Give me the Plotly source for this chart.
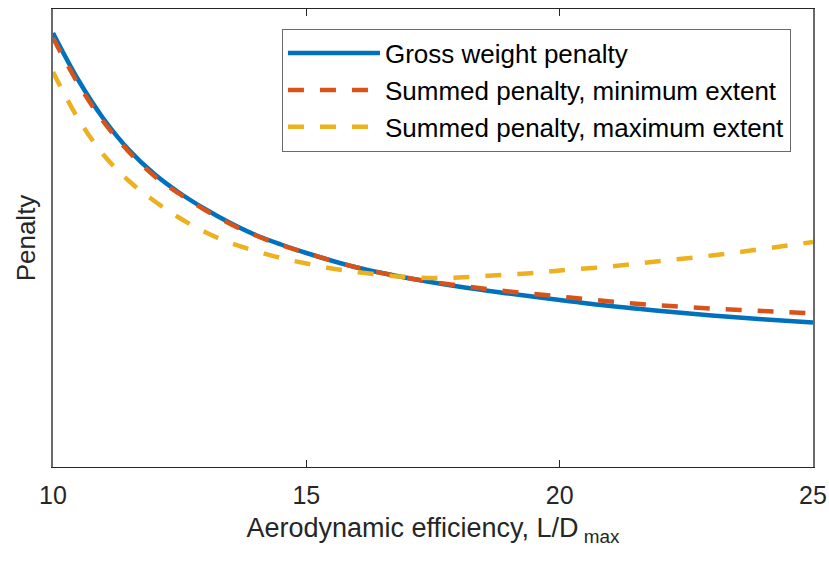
import plotly.graph_objects as go

# Aerodynamic efficiency (L/D max) sample points
ld_gross = [10, 10.5, 11, 11.5, 12, 12.5, 13, 13.5, 14, 14.5, 15,
            16, 17, 18, 19, 20, 21, 22, 23, 24, 25]
penalty_gross = [434, 387, 348, 317, 293, 274, 258, 244, 232, 222.5, 214,
                 199.5, 189, 180.5, 173.5, 167, 161, 156, 151.5, 147.8, 144.5]

ld_min = ld_gross
penalty_min = [429, 383, 345, 315, 291, 273, 257, 243, 231.5, 222, 214,
               199.5, 189, 181.5, 175.5, 170.5, 165.5, 161.5, 158.5, 156, 153.5]

ld_max = [10, 10.5, 11, 11.5, 12, 12.5, 13, 13.5, 14, 14.5, 15, 15.5,
          16, 16.5, 17, 17.5, 18, 18.5, 19, 19.5, 20, 21, 22, 23, 24, 25]
penalty_max = [395, 348, 312, 286, 266, 249, 235, 224, 216, 209, 203.5, 198.5,
               195, 192, 190, 189, 189.5, 191, 192.5, 194, 196.5, 200.5, 206,
               211.5, 218, 225]

x_ticks = [10, 15, 20, 25]
names = ["Gross weight penalty",
         "Summed penalty, minimum extent",
         "Summed penalty, maximum extent"]
colors = ["#0072BD", "#D95319", "#EDB120"]

FONT = "Liberation Sans, Arial, Helvetica, sans-serif"
AXIS = "#262626"
FRAME = "#6a6a6a"

fig = go.Figure()
fig.add_trace(go.Scatter(x=ld_gross, y=penalty_gross, mode="lines", name=names[0],
                         line=dict(color=colors[0], width=4.5, shape="spline")))
fig.add_trace(go.Scatter(x=ld_min, y=penalty_min, mode="lines", name=names[1],
                         line=dict(color=colors[1], width=4.5, shape="spline",
                                   dash="16px,16px")))
fig.add_trace(go.Scatter(x=ld_max, y=penalty_max, mode="lines", name=names[2],
                         line=dict(color=colors[2], width=4.5, shape="spline",
                                   dash="16px,16px")))

fig.update_layout(
    width=829, height=561,
    margin=dict(l=53, r=16, t=9, b=94, autoexpand=False),
    paper_bgcolor="white", plot_bgcolor="white",
    font=dict(family=FONT, size=26, color="#262626"),
    showlegend=True,
    legend=dict(
        x=0.971, y=0.957, xanchor="right", yanchor="top",
        bgcolor="white", bordercolor=FRAME, borderwidth=1,
        font=dict(family=FONT, size=26, color="#000000"),
        itemwidth=92, tracegroupgap=0,
    ),
    xaxis=dict(
        range=[10, 25], tickvals=x_ticks, ticktext=[str(t) for t in x_ticks],
        ticks="inside", ticklen=7, tickwidth=1, tickcolor=AXIS,
        showline=True, linecolor=AXIS, linewidth=1, mirror="ticks",
        showgrid=False, zeroline=False, automargin=False,
        tickfont=dict(family=FONT, size=25, color="#262626"),
        ticklabelstandoff=6,
        title=dict(text="Aerodynamic efficiency, L/D<sub> max</sub>",
                   font=dict(family=FONT, size=27, color="#262626"),
                   standoff=10),
    ),
    yaxis=dict(
        range=[0, 458], showticklabels=False, ticks="",
        showline=True, linecolor=FRAME, linewidth=1.5, mirror=True,
        showgrid=False, zeroline=False, automargin=False,
        title=dict(text="Penalty", font=dict(family=FONT, size=26, color="#262626"),
                   standoff=8),
    ),
)

fig.write_html("out.html")
